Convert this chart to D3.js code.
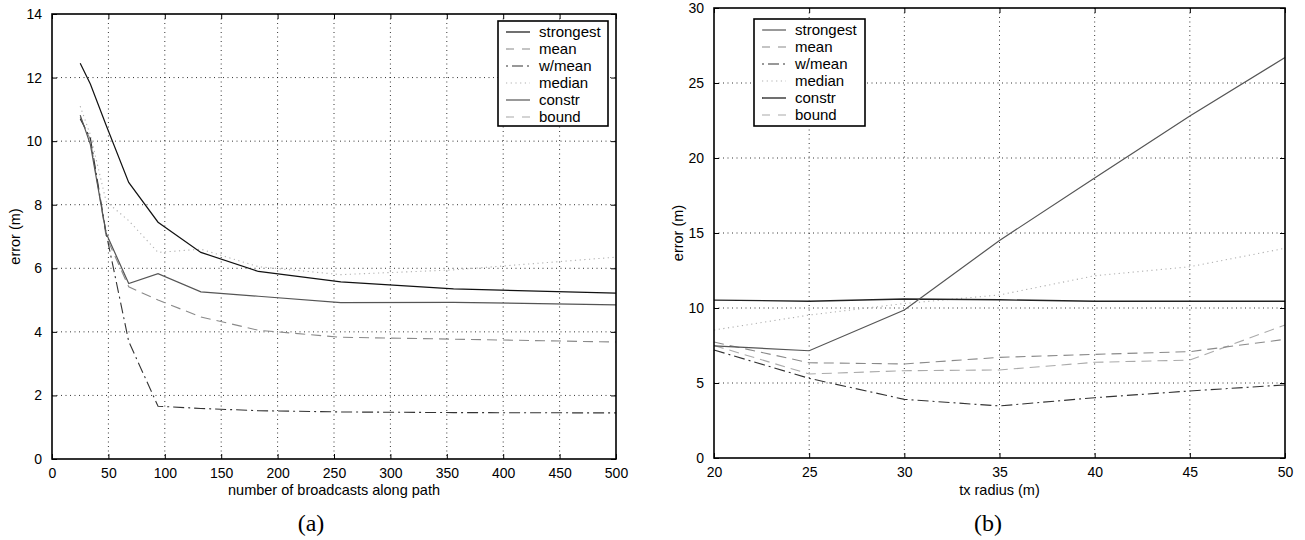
<!DOCTYPE html>
<html><head><meta charset="utf-8">
<script src="https://cdn.jsdelivr.net/npm/d3@7"></script>
<style>
html,body{margin:0;padding:0;background:#fff;}
svg{display:block;}
text{font-family:"Liberation Sans",Arial,Helvetica,sans-serif;}
</style></head>
<body>
<svg id="c" width="1305" height="540"></svg>
<script>
// ---- data: chart (a) ----
const xA = [25, 34, 48, 68, 94, 132, 183, 256, 356, 500];
const strongestA = [12.45, 11.8, 10.5, 8.7, 7.45, 6.5, 5.9, 5.57, 5.35, 5.22];
const meanA = [10.75, 10.05, 7.0, 5.42, 5.0, 4.47, 4.05, 3.83, 3.77, 3.68];
const wmeanA = [10.7, 10.1, 7.1, 3.7, 1.66, 1.59, 1.52, 1.48, 1.46, 1.45];
const medianA = [11.1, 10.2, 8.1, 7.5, 6.5, 6.6, 6.05, 5.8, 5.95, 6.35];
const constrA = [10.82, 9.9, 7.1, 5.52, 5.83, 5.26, 5.12, 4.92, 4.93, 4.85];
const xTicksA = [0, 50, 100, 150, 200, 250, 300, 350, 400, 450, 500];
const yTicksA = [0, 2, 4, 6, 8, 10, 12, 14];

// ---- data: chart (b) ----
const xB = [20, 25, 30, 35, 40, 45, 50];
const strongestB = [7.47, 7.15, 9.87, 14.5, 18.67, 22.8, 26.7];
const meanB = [7.73, 6.35, 6.27, 6.71, 6.91, 7.09, 7.91];
const wmeanB = [7.2, 5.31, 3.91, 3.47, 4.02, 4.47, 4.87];
const medianB = [8.53, 9.53, 10.3, 10.87, 12.15, 12.75, 13.98];
const constrB = [10.53, 10.45, 10.6, 10.55, 10.45, 10.45, 10.45];
const boundB = [7.5, 5.6, 5.82, 5.87, 6.38, 6.53, 8.87];
const xTicksB = [20, 25, 30, 35, 40, 45, 50];
const yTicksB = [0, 5, 10, 15, 20, 25, 30];

const seriesNames = ["strongest", "mean", "w/mean", "median", "constr", "bound"];

const svg = d3.select("#c");

function drawChart(cfg) {
  const {x0, x1, yTop, yBot, xDom, yDom, xTicks, yTicks, xLabel, caption, capX, series, styles, legend, ylabX} = cfg;
  const x = d3.scaleLinear().domain(xDom).range([x0, x1]);
  const y = d3.scaleLinear().domain(yDom).range([yBot, yTop]);
  const g = svg.append("g");

  // grid
  const grid = g.append("g");
  xTicks.slice(1, -1).forEach(t => grid.append("line")
    .attr("x1", x(t)).attr("x2", x(t)).attr("y1", yTop).attr("y2", yBot)
    .attr("stroke", "#000").attr("stroke-width", 0.8).attr("stroke-dasharray", "1,3.5"));
  yTicks.slice(1, -1).forEach(t => grid.append("line")
    .attr("y1", y(t)).attr("y2", y(t)).attr("x1", x0).attr("x2", x1)
    .attr("stroke", "#000").attr("stroke-width", 0.8).attr("stroke-dasharray", "1,3.5"));

  // series
  const line = d3.line().x(d => x(d[0])).y(d => y(d[1]));
  series.forEach(s => {
    if (!s.vals) return;
    const st = styles[s.name];
    g.append("path").datum(s.xs.map((v, i) => [v, s.vals[i]]))
      .attr("d", line).attr("fill", "none")
      .attr("stroke", st.color).attr("stroke-width", st.w || 1.1)
      .attr("stroke-dasharray", st.dash || null);
  });

  // axes (ticks inside, MATLAB style)
  const tl = 5;
  const axB = d3.axisBottom(x).tickValues(xTicks).tickSizeInner(-tl).tickSizeOuter(0).tickPadding(tl + 4).tickFormat(d3.format("d"));
  const axT = d3.axisTop(x).tickValues(xTicks).tickSizeInner(-tl).tickSizeOuter(0).tickFormat("");
  const axL = d3.axisLeft(y).tickValues(yTicks).tickSizeInner(-tl).tickSizeOuter(0).tickPadding(tl + 5).tickFormat(d3.format("d"));
  const axR = d3.axisRight(y).tickValues(yTicks).tickSizeInner(-tl).tickSizeOuter(0).tickFormat("");
  const gb = g.append("g").attr("transform", `translate(0,${yBot})`).call(axB);
  const gt = g.append("g").attr("transform", `translate(0,${yTop})`).call(axT);
  const gl = g.append("g").attr("transform", `translate(${x0},0)`).call(axL);
  const gr = g.append("g").attr("transform", `translate(${x1},0)`).call(axR);
  [gb, gt, gl, gr].forEach(a => {
    a.select(".domain").remove();
    a.selectAll("line").attr("stroke", "#000").attr("stroke-width", 1);
    a.selectAll("text").attr("fill", "#000").style("font-size", "14px").style("font-family", "Liberation Sans, Arial, sans-serif");
  });
  g.append("rect").attr("x", x0).attr("y", yTop).attr("width", x1 - x0).attr("height", yBot - yTop)
    .attr("fill", "none").attr("stroke", "#000").attr("stroke-width", 1.6);

  // labels
  g.append("text").attr("x", (x0 + x1) / 2).attr("y", 495).attr("text-anchor", "middle")
    .style("font-size", "14.5px").text(xLabel);
  g.append("text").attr("transform", `translate(${ylabX},${(yTop + yBot) / 2}) rotate(-90)`)
    .attr("text-anchor", "middle").style("font-size", "14.5px").text("error (m)");
  g.append("text").attr("x", capX).attr("y", 531).attr("text-anchor", "middle")
    .style("font-family", "Liberation Serif, Times New Roman, serif").style("font-size", "24px").text(caption);

  // legend
  const lg = g.append("g");
  lg.append("rect").attr("x", legend.x).attr("y", legend.y).attr("width", legend.w).attr("height", legend.h)
    .attr("fill", "#fff").attr("stroke", "#000").attr("stroke-width", 1.6);
  seriesNames.forEach((n, i) => {
    const yy = legend.y + 11 + i * 17;
    const st = styles[n];
    lg.append("line").attr("x1", legend.x + 8).attr("x2", legend.x + 32).attr("y1", yy).attr("y2", yy)
      .attr("stroke", st.color).attr("stroke-width", st.w || 1.1).attr("stroke-dasharray", st.legDash || st.dash || null);
    lg.append("text").attr("x", legend.x + 41).attr("y", yy + 5).style("font-size", "15px").text(n);
  });
}

const stylesA = {
  "strongest": {color: "#111", w: 1.2},
  "mean": {color: "#8a8a8a", dash: "10,6", legDash: "8,8"},
  "w/mean": {color: "#333", dash: "11,4,2,4", legDash: "2,4,11,4"},
  "median": {color: "#b0b0b0", dash: "1.2,3.5"},
  "constr": {color: "#555", w: 1.2},
  "bound": {color: "#aaa", dash: "10,6", legDash: "8,8"}
};
const stylesB = {
  "strongest": {color: "#555", w: 1.2},
  "mean": {color: "#8a8a8a", dash: "10,6", legDash: "8,8"},
  "w/mean": {color: "#333", dash: "11,4,2,4", legDash: "2,4,11,4"},
  "median": {color: "#b0b0b0", dash: "1.2,3.5"},
  "constr": {color: "#222", w: 1.3},
  "bound": {color: "#aaa", dash: "10,6", legDash: "8,8"}
};

drawChart({
  x0: 52, x1: 616, yTop: 14, yBot: 459, xDom: [0, 500], yDom: [0, 14],
  xTicks: xTicksA, yTicks: yTicksA, xLabel: "number of broadcasts along path",
  caption: "(a)", capX: 311, ylabX: 20, styles: stylesA,
  series: [
    {name: "median", xs: xA, vals: medianA},
    {name: "mean", xs: xA, vals: meanA},
    {name: "w/mean", xs: xA, vals: wmeanA},
    {name: "constr", xs: xA, vals: constrA},
    {name: "strongest", xs: xA, vals: strongestA}
  ],
  legend: {x: 498, y: 21, w: 110, h: 105}
});

drawChart({
  x0: 714, x1: 1285, yTop: 8, yBot: 458, xDom: [20, 50], yDom: [0, 30],
  xTicks: xTicksB, yTicks: yTicksB, xLabel: "tx radius (m)",
  caption: "(b)", capX: 988, ylabX: 683, styles: stylesB,
  series: [
    {name: "median", xs: xB, vals: medianB},
    {name: "bound", xs: xB, vals: boundB},
    {name: "mean", xs: xB, vals: meanB},
    {name: "w/mean", xs: xB, vals: wmeanB},
    {name: "constr", xs: xB, vals: constrB},
    {name: "strongest", xs: xB, vals: strongestB}
  ],
  legend: {x: 754, y: 19, w: 111, h: 107}
});
</script>
</body></html>
